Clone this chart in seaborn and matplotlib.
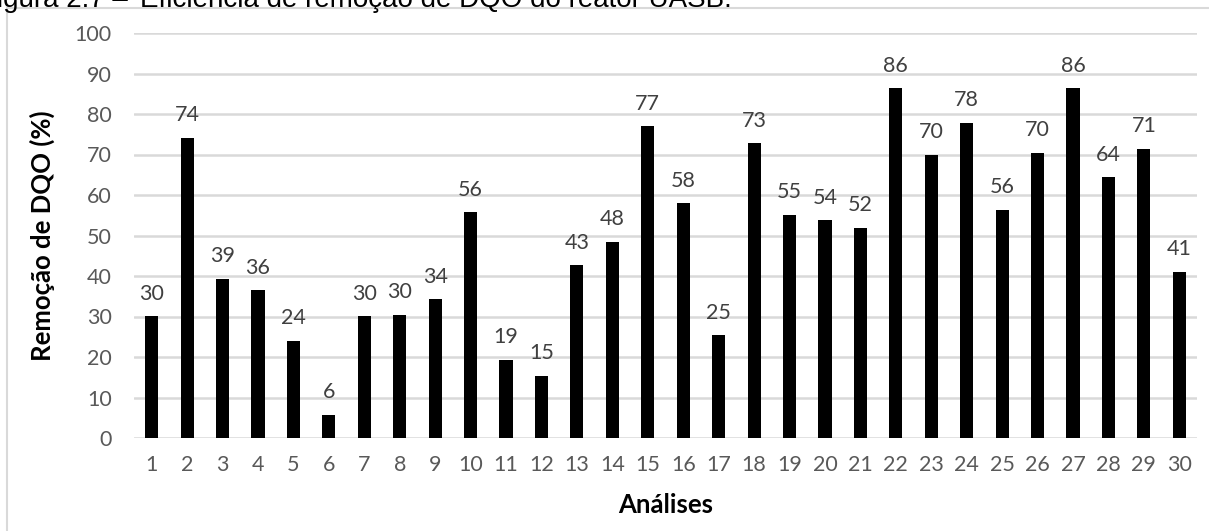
import matplotlib
matplotlib.use("Agg")
import matplotlib.pyplot as plt
import matplotlib.patches as mpatches
import seaborn as sns
import pandas as pd

# Removal efficiency per analysis (%)
analises = [str(i) for i in range(1, 31)]
remocao = [30.1, 74.1, 39.3, 36.5, 24.0, 5.7, 30.1, 30.4, 34.3, 55.8,
           19.3, 15.4, 42.7, 48.4, 77.0, 58.0, 25.4, 72.8, 55.1, 53.8,
           51.9, 86.4, 69.9, 77.8, 56.4, 70.4, 86.4, 64.4, 71.4, 41.0]
y_ticks = list(range(0, 101, 10))

titulo_num = "Figura 2.7 –"
titulo = "Eficiência de remoção de DQO do reator UASB."
y_titulo = "Remoção de DQO (%)"
x_titulo = "Análises"

sns.set_theme(style="white")
plt.rcParams["font.family"] = ["Lato", "DejaVu Sans"]

W, H = 1209, 531
fig = plt.figure(figsize=(W / 100, H / 100), dpi=100)
ax = fig.add_axes([134 / W, 1 - 438 / H, (1197 - 134) / W, (438 - 33) / H])

df = pd.DataFrame({"analise": analises, "remocao": remocao})
sns.barplot(data=df, x="analise", y="remocao", color="black",
            width=0.37, saturation=1, ax=ax, zorder=3)
for p in ax.patches:
    p.set_edgecolor("none")

ax.bar_label(ax.containers[0], labels=[f"{v:.0f}" for v in remocao],
             padding=9, fontsize=15.5, color="#404040")

ax.set_ylim(0, 100)
ax.set_xlim(-0.5, len(analises) - 0.5)
ax.set_yticks(y_ticks)
ax.yaxis.grid(True, color="#d9d9d9", linewidth=1.8, zorder=0)
ax.set_axisbelow(True)
for s in ax.spines.values():
    s.set_visible(False)
ax.tick_params(axis="both", length=0, labelsize=15.5, colors="#595959")
ax.tick_params(axis="y", pad=16)
ax.tick_params(axis="x", pad=12)

ax.set_xlabel(x_titulo, fontsize=18.5, fontweight="bold", color="black", labelpad=13)
ax.set_ylabel(y_titulo, fontsize=18.5, fontweight="bold", color="black", labelpad=14)

# chart frame
fig.patches.append(mpatches.Rectangle((6.5 / W, -0.05), 1.1, 1 - 8 / H + 0.05,
                                      transform=fig.transFigure, fill=False,
                                      edgecolor="#d9d9d9", linewidth=1.5))
# caption line above the frame
cap_font = dict(fontsize=20, va="baseline",
                family=["Liberation Sans", "DejaVu Sans"], color="black")
fig.text(128 / W, 1 - 7 / H, titulo_num, ha="right", **cap_font)
fig.text(140 / W, 1 - 7 / H, titulo, ha="left", **cap_font)

fig.savefig("out.png", dpi=100)
